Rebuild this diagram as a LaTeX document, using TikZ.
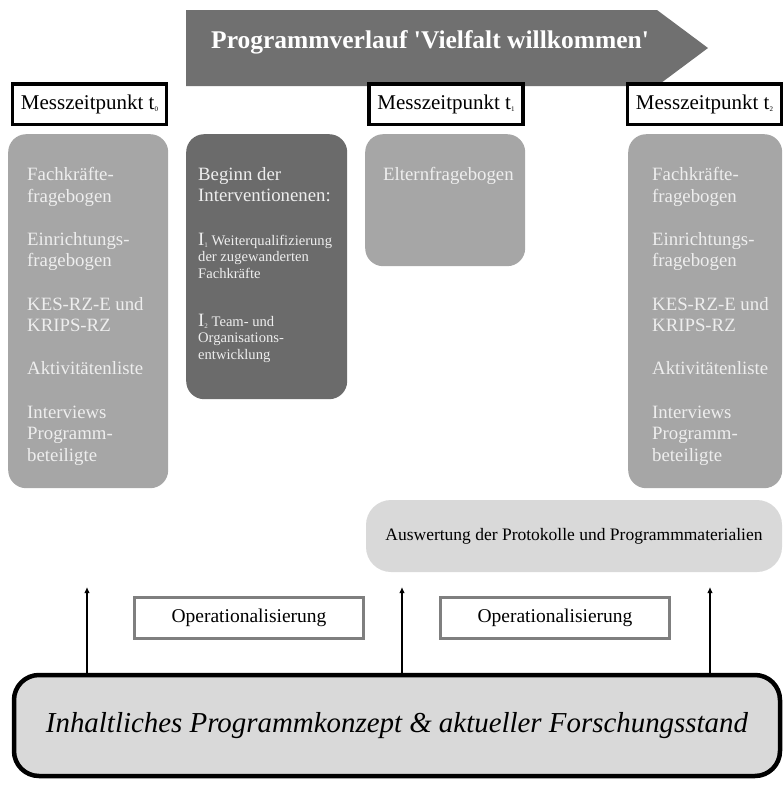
\documentclass[tikz,border=0pt]{standalone}
\usepackage{fontspec}
\setmainfont{Liberation Serif}
\usetikzlibrary{positioning}
\usetikzlibrary{arrows.meta}

\definecolor{bannergrau}{HTML}{707070}
\definecolor{dunkelgrau}{HTML}{6B6B6B}
\definecolor{mittelgrau}{HTML}{A6A6A6}
\definecolor{hellgrau}{HTML}{D9D9D9}
\definecolor{schrift}{HTML}{EEEEEE}
\definecolor{rahmengrau}{HTML}{7F7F7F}

\newcommand{\idx}[1]{\raisebox{-0.3ex}{\fontsize{7}{7}\selectfont #1}}
\newcommand{\instrumente}{Fachkräfte-\\fragebogen\\[21.6pt]Einrichtungs-\\fragebogen\\[21.6pt]KES-RZ-E und\\KRIPS-RZ\\[21.6pt]Aktivitätenliste\\[21.6pt]Interviews\\Programm-\\beteiligte}

\tikzset{
    kasten/.style={anchor=north west, inner sep=0pt, rounded corners=18pt},
    zeitpunkt/.style={draw=black, line width=3.5pt, fill=white, minimum width=154pt, minimum height=40.5pt, inner sep=0pt, font=\fontsize{21}{21}\selectfont},
    liste/.style={anchor=north west, inner sep=0pt, align=left, text=schrift, font=\fontsize{18.8}{21.6}\selectfont},
    klein/.style={liste, font=\fontsize{14.6}{16.8}\selectfont},
    operation/.style={draw=rahmengrau, line width=3pt, fill=white, minimum width=229pt, minimum height=41pt, font=\fontsize{19.5}{19.5}\selectfont},
    pfeil/.style={-{Latex[length=6pt,width=5.5pt]}, line width=1.1pt}
}

\begin{document}
\begin{tikzpicture}[x=1pt,y=-1pt]
    \useasboundingbox (0,0) rectangle (784,785);
    % Programmverlauf
    \fill[bannergrau] (186,10) -- (657,10) -- (708,48) -- (657,86) -- (186,86) -- cycle;
    \node[anchor=base, text=white, font=\bfseries\fontsize{25.5}{25.5}\selectfont] (verlauf) at (430,48) {Programmverlauf \textquotesingle Vielfalt willkommen\textquotesingle};
    % Messzeitpunkte
    \node[zeitpunkt] (t0) at (89.5,104) {Messzeitpunkt t\idx{0}};
    \node[zeitpunkt] (t1) at (446,104) {Messzeitpunkt t\idx{1}};
    \node[zeitpunkt] (t2) at (704.5,104) {Messzeitpunkt t\idx{2}};
    % Kaesten
    \node[kasten, fill=mittelgrau, minimum width=160pt, minimum height=354pt] (links) at (8,134) {};
    \node[kasten, fill=dunkelgrau, minimum width=161pt, minimum height=265pt] (interv) at (186,134) {};
    \node[kasten, fill=mittelgrau, minimum width=160pt, minimum height=132pt] (eltern) at (365,134) {};
    \node[kasten, fill=mittelgrau, minimum width=154pt, minimum height=354pt] (rechts) at (628,134) {};
    \node[liste, below right=33pt and 19pt of links.north west] (linksliste) {\instrumente};
    \node[liste, below right=33pt and 24pt of rechts.north west] (rechtsliste) {\instrumente};
    \node[liste, below right=33pt and 18pt of eltern.north west] (elternliste) {Elternfragebogen};
    \node[liste, below right=33pt and 12pt of interv.north west] (beginn) {Beginn der\\Interventionenen:};
    \node[klein, below right=98.6pt and 12pt of interv.north west] (ieins) {{\fontsize{18.8}{18.8}\selectfont I\idx{1}} Weiterqualifizierung\\der zugewanderten\\Fachkräfte};
    \node[klein, below right=179.6pt and 12pt of interv.north west] (izwei) {{\fontsize{18.8}{18.8}\selectfont I\idx{2}} Team- und\\Organisations-\\entwicklung};
    % Auswertung
    \node[fill=hellgrau, rounded corners=25pt, minimum width=416pt, minimum height=72pt, font=\fontsize{17.5}{17.5}\selectfont] (auswertung) at (574,536) {Auswertung der Protokolle und Programmmaterialien};
    % Operationalisierung
    \node[operation] (op1) at (249,618) {Operationalisierung};
    \node[operation] (op2) at (555,618) {Operationalisierung};
    % Programmkonzept
    \node[draw=black, line width=4.5pt, fill=hellgrau, rounded corners=25pt, minimum width=766pt, minimum height=101pt, font=\itshape\fontsize{28.9}{28.9}\selectfont] (konzept) at (397,725.5) {Inhaltliches Programmkonzept \& aktueller Forschungsstand};
    \coordinate (ziel0) at (87,587);
    \coordinate (ziel1) at (402,587);
    \coordinate (ziel2) at (710,587);
    \foreach \z in {0,1,2}
        \draw[pfeil] (konzept.north -| ziel\z) -- (ziel\z);
\end{tikzpicture}
\end{document}
